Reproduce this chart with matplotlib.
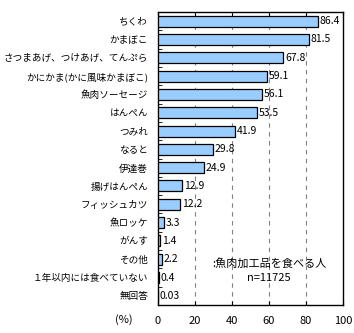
import matplotlib
matplotlib.use('Agg')
import matplotlib.pyplot as plt

plt.rcParams['font.family'] = ['Noto Sans CJK JP', 'DejaVu Sans']

categories = ["ちくわ", "かまぼこ", "さつまあげ、つけあげ、てんぷら", "かにかま(かに風味かまぼこ)",
              "魚肉ソーセージ", "はんぺん", "つみれ", "なると", "伊達巻", "揚げはんぺん",
              "フィッシュカツ", "魚ロッケ", "がんす", "その他", "１年以内には食べていない", "無回答"]
values = [86.4, 81.5, 67.8, 59.1, 56.1, 53.5, 41.9, 29.8, 24.9, 12.9, 12.2, 3.3, 1.4, 2.2, 0.4, 0.03]
value_labels = ["86.4", "81.5", "67.8", "59.1", "56.1", "53.5", "41.9", "29.8", "24.9", "12.9",
                "12.2", "3.3", "1.4", "2.2", "0.4", "0.03"]
xticks = [0, 20, 40, 60, 80, 100]

fig = plt.figure(figsize=(3.54, 3.33), dpi=100)
ax = fig.add_axes([0.446, 0.084, 0.523, 0.880])

y = list(range(len(categories)))
ax.barh(y, values, height=0.6, color="#99ccff", edgecolor="black", linewidth=0.9, zorder=3)
for yi, v, lab in zip(y, values, value_labels):
    ax.text(v + 1, yi, lab, va="center", ha="left", fontsize=7.5, zorder=4)

ax.set_xlim(0, 100)
ax.set_ylim(len(categories) - 0.5, -0.5)
ax.set_yticks(y)
ax.set_yticklabels(categories, fontsize=6.9)
ax.set_yticks([i + 0.5 for i in y[:-1]], minor=True)
ax.tick_params(axis='y', which='major', length=0, pad=7)
ax.tick_params(axis='y', which='minor', direction='in', length=3)
ax.set_xticks(xticks)
ax.set_xticklabels([str(t) for t in xticks], fontsize=8)
ax.tick_params(axis='x', length=0, pad=8)
ax.tick_params(axis='x', top=True, direction='in', length=3)
for t in xticks[1:-1]:
    ax.axvline(t, color="gray", linestyle=(0, (4, 4)), linewidth=0.8, zorder=1)
for s in ax.spines.values():
    s.set_linewidth(1.0)

ax.text(0.6, 0.142, ":魚肉加工品を食べる人", transform=ax.transAxes, ha="center", va="center", fontsize=8)
ax.text(0.6, 0.092, "n=11725", transform=ax.transAxes, ha="center", va="center", fontsize=8)
fig.text(0.35, 0.039, "(%)", ha="center", va="center", fontsize=8)

fig.savefig("out.png", dpi=100)
